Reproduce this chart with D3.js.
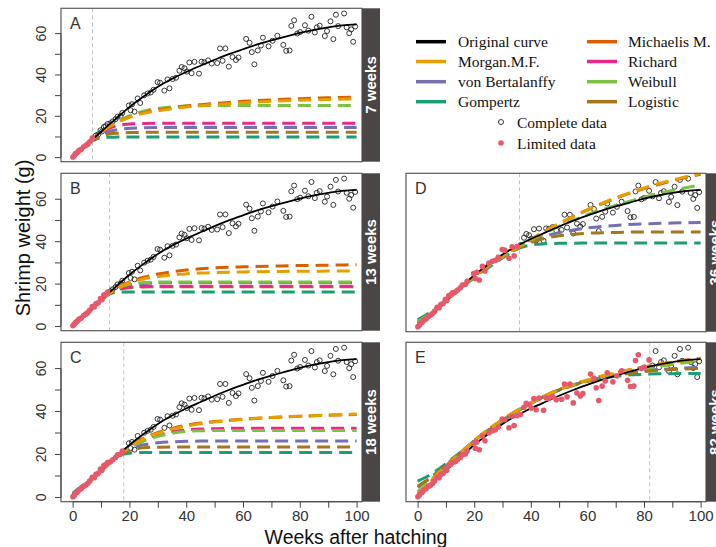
<!DOCTYPE html>
<html><head><meta charset="utf-8">
<script src="https://cdn.jsdelivr.net/npm/d3@7"></script>
<style>body{margin:0;background:#fff;} svg{display:block;}</style>
</head><body>
<svg id="c" width="716" height="547"></svg>
<script>
// ---------- data ----------
const pointWeeks = [0.1,0.6,1.0,1.6,2.2,3.0,3.9,4.6,5.3,6.0,6.9,7.6,8.2,9.0,9.8,10.3,11.0,11.6,12.3,13.3,14.1,15.1,15.8,16.9,17.5,
  19.8,20.4,20.9,21.8,22.9,23.8,25.2,26.4,27.5,28.5,29.9,30.8,32.3,33.4,34.1,35.2,36.4,37.6,38.4,39.4,40.2,41.1,41.9,42.9,44.5,45.4,46.4,47.7,
  49.0,50.9,51.9,52.8,53.8,55.0,56.3,57.5,58.4,61.1,62.3,63.1,64.0,65.2,66.3,67.0,69.0,70.4,72.1,74.2,75.2,76.4,77.0,78.0,79.1,80.1,81.8,
  83.0,84.1,85.3,86.0,87.0,88.8,89.6,90.8,91.8,92.7,93.5,95.6,96.5,97.4,98.1,98.8,99.5];
const pointWeights = [0.1,0.8,1.7,2.2,3.2,3.8,5.0,5.6,6.3,7.4,9.2,9.0,10.5,11.0,13.0,12.4,14.6,15.0,16.0,16.4,17.3,18.4,19.6,20.0,21.4,
  25.0,22.7,25.6,22.0,28.4,26.2,29.9,30.8,31.3,32.6,36.3,36.0,32.2,37.6,33.3,37.8,38.4,41.8,43.6,43.0,41.4,45.8,40.6,46.1,40.4,46.2,45.9,46.8,
  45.3,45.5,52.6,46.6,52.6,43.8,48.4,47.0,48.2,57.2,55.3,50.8,44.9,51.6,54.0,57.8,53.6,56.3,58.7,54.3,51.4,51.6,63.5,66.2,59.8,60.5,63.8,
  61.2,67.9,60.3,62.8,63.6,58.6,61.0,65.7,57.1,68.9,63.4,69.5,62.8,60.0,61.8,55.8,63.2];

const origWeeks   = [0,5,10,15,20,25,30,35,40,45,50,55,60,65,70,75,80,85,90,95,100];
const origWeights = [0,6,12.3,18.3,24.2,29.3,34,37.9,41.2,44.2,47.1,49.8,52.2,54.5,56.5,58.3,60.1,61.6,62.8,63.7,64.2];

const fitWeeks = [0,4,7,10,13,16,18,21,25,30,36,40,45,50,60,70,80,82,90,100];

const panelLetters = ["A","B","C","D","E"];
const cutoffWeeks  = [7,13,18,36,82];
const stripLabels  = ["7 weeks","13 weeks","18 weeks","36 weeks","82 weeks"];

// fitted curves, one row per panel (A..E) at fitWeeks
const gompertzFit = [
  [0.3,4.6,8.2,9.3,9.6,9.7,9.8,9.8,9.8,9.8,9.8,9.8,9.8,9.8,9.8,9.8,9.8,9.8,9.8,9.8],
  [1.0,5.2,8.6,12.2,15.2,15.9,16.0,16.1,16.1,16.1,16.1,16.1,16.1,16.1,16.1,16.1,16.1,16.1,16.1,16.1],
  [1.8,5.8,9.0,12.4,15.8,18.6,20.0,20.5,20.7,20.7,20.7,20.7,20.7,20.7,20.7,20.7,20.7,20.7,20.7,20.7],
  [3.4,6.5,9.3,12.5,15.8,19.0,21.0,24.0,27.8,32.3,37.0,38.4,39.0,39.2,39.3,39.3,39.3,39.3,39.3,39.3],
  [7.4,10.0,12.6,15.5,18.6,21.7,23.8,26.9,30.8,35.4,40.5,43.5,47.0,49.9,54.0,56.2,57.1,57.2,57.4,57.5]];
const logisticFit = [
  [0.5,4.6,8.3,10.2,11.2,11.6,11.8,11.9,12,12,12,12,12,12,12,12,12,12,12,12],
  [0.8,5.0,8.5,12.0,15.3,17.0,17.7,18.2,18.4,18.5,18.5,18.5,18.5,18.5,18.5,18.5,18.5,18.5,18.5,18.5],
  [1.2,5.4,8.8,12.3,15.8,18.8,20.5,22.0,22.9,23.2,23.3,23.3,23.3,23.3,23.3,23.3,23.3,23.3,23.3,23.3],
  [2.2,5.8,9.0,12.4,15.9,19.2,21.3,24.4,28.2,32.6,37.2,39.5,41.5,42.7,43.9,44.3,44.5,44.5,44.5,44.5],
  [5.0,8.5,11.6,14.9,18.3,21.6,23.7,27.0,31.0,35.6,40.6,43.6,46.9,49.7,53.8,56.5,58.3,58.6,59.3,59.8]];
const bertalanffyFit = [
  [0.2,4.5,8.4,10.9,12.4,13.3,13.7,14.0,14.2,14.3,14.3,14.3,14.3,14.3,14.3,14.3,14.3,14.3,14.3,14.3],
  [0.5,4.8,8.4,12.0,15.5,17.6,18.6,19.5,20.1,20.4,20.5,20.5,20.5,20.5,20.5,20.5,20.5,20.5,20.5,20.5],
  [0.8,5.0,8.6,12.2,15.8,19.0,21.0,22.8,24.3,25.2,25.7,25.9,26.0,26.0,26.0,26.0,26.0,26.0,26.0,26.0],
  [1.5,5.4,8.8,12.3,15.9,19.3,21.5,24.6,28.5,32.9,37.3,40.0,42.5,44.2,46.4,47.6,48.3,48.4,48.7,49.0],
  [4.5,8.2,11.4,14.8,18.3,21.7,23.9,27.2,31.2,35.8,40.7,43.6,46.9,49.7,53.9,56.8,58.7,59.0,59.7,60.3]];
const richardFit = [
  [0.2,4.5,8.4,11.5,14.0,15.3,15.8,16.1,16.3,16.4,16.4,16.4,16.4,16.4,16.4,16.4,16.4,16.4,16.4,16.4],
  [0.3,4.7,8.4,12.0,15.5,17.3,18.0,18.5,18.7,18.8,18.8,18.8,18.8,18.8,18.8,18.8,18.8,18.8,18.8,18.8],
  [0.3,4.8,8.5,12.2,15.9,19.3,21.4,24.0,26.6,28.9,30.6,31.2,31.6,31.8,32,32,32,32,32,32],
  null,
  null];
const weibullFit = [
  [0.1,4.5,8.5,12.0,15.0,17.5,18.8,20.5,22.2,23.6,24.4,24.7,24.9,25,25,25,25,25,25,25],
  [0.2,4.6,8.4,12.0,15.6,17.9,19.0,20.0,20.5,20.7,20.8,20.8,20.8,20.8,20.8,20.8,20.8,20.8,20.8,20.8],
  [0.5,4.8,8.5,12.1,15.8,19.1,21.2,23.6,26.0,28.2,29.9,30.5,30.8,30.9,31.0,31.0,31.0,31.0,31.0,31.0],
  [2.5,5.8,9.0,12.4,15.9,19.3,21.4,24.5,28.4,32.9,37.6,40.5,44.0,47.2,52.6,57.0,60.8,61.5,64.0,66.5],
  [2.5,7.0,10.8,14.5,18.1,21.6,23.9,27.3,31.4,36.0,40.9,43.8,47.1,49.9,54.2,57.4,59.8,60.2,61.7,63.3]];
const michaelisFit = [
  [0.0,4.5,8.5,12.0,14.8,17.0,18.3,20.0,21.5,22.8,24.0,24.7,25.4,26.0,27.0,27.7,28.3,28.4,28.7,29.1],
  [0.0,4.6,8.4,12.0,15.6,18.2,19.6,21.3,23.0,24.5,25.8,26.4,27.0,27.4,27.9,28.2,28.5,28.5,28.7,28.9],
  [0.0,4.7,8.5,12.1,15.8,19.2,21.4,24.4,27.4,30.0,32.3,33.4,34.4,35.1,36.2,37.0,37.6,37.7,38.0,38.4],
  [0.2,4.9,8.6,12.2,15.9,19.4,21.6,24.8,28.8,33.4,38.0,41.0,44.8,48.4,54.8,60.3,64.8,65.6,68.5,71.5],
  [0.5,6.2,10.3,14.2,18.0,21.6,23.9,27.3,31.4,36.0,40.9,43.8,47.1,50.0,54.4,57.8,60.5,61.0,62.8,64.6]];
const morganFit = [
  [0.1,4.5,8.5,12.0,14.8,17.0,18.2,19.8,21.2,22.4,23.6,24.3,24.9,25.4,26.3,27.0,27.5,27.6,27.9,28.2],
  [0.1,4.6,8.4,12.0,15.6,18.0,19.3,20.8,22.2,23.3,24.2,24.6,25.0,25.2,25.5,25.7,25.8,25.8,25.9,26.0],
  [0.2,4.7,8.5,12.1,15.8,19.2,21.3,24.1,27.0,29.6,31.9,33.0,34.1,34.9,36.1,37.0,37.6,37.7,38.1,38.6],
  [0.5,5.0,8.6,12.2,15.9,19.4,21.6,24.8,28.8,33.4,38.0,41.0,44.9,48.5,55.0,60.5,65.1,66.0,68.8,72.0],
  [1.5,6.5,10.5,14.3,18.0,21.6,23.9,27.3,31.4,36.0,40.9,43.8,47.1,50.0,54.4,57.8,60.5,61.0,62.7,64.5]];

const yTicks = [0,10,20,30,40,50,60];
const yTickLabels = [0,20,40,60];
const xTicks = [0,10,20,30,40,50,60,70,80,90,100];
const xTickLabels = [0,20,40,60,80,100];

// legend
const legendCol1 = ["Original curve","Morgan.M.F.","von Bertalanffy","Gompertz"];
const legendCol2 = ["Michaelis M.","Richard","Weibull","Logistic"];

// ---------- styles ----------
const C = {
  orig:"#000000", morgan:"#E69F00", bert:"#7570B3", gomp:"#1B9E77",
  mm:"#D95F02", rich:"#E7298A", weib:"#7CC142", logi:"#A6761D",
  limited:"#E8586B", strip:"#4b4646", frame:"#5a5a5a"
};
const legendCol1Colors = [C.orig, C.morgan, C.bert, C.gomp];
const legendCol2Colors = [C.mm, C.rich, C.weib, C.logi];

// draw order of fits
const fitList = [
  {data:gompertzFit, color:C.gomp},
  {data:bertalanffyFit, color:C.bert},
  {data:logisticFit, color:C.logi},
  {data:richardFit, color:C.rich},
  {data:weibullFit, color:C.weib},
  {data:michaelisFit, color:C.mm},
  {data:morganFit, color:C.morgan}
];

const boxes = [
  {x0:61,  x1:362, y0:8.3,   y1:161.7, yAxis:true,  xAxis:false},
  {x0:61,  x1:362, y0:173.3, y1:330.7, yAxis:true,  xAxis:false},
  {x0:61,  x1:362, y0:342.3, y1:501.7, yAxis:true,  xAxis:true},
  {x0:406, x1:706, y0:173.3, y1:331.7, yAxis:false, xAxis:false},
  {x0:406, x1:706, y0:342.3, y1:501.7, yAxis:false, xAxis:true}
];

const svg = d3.select("#c");
const defs = svg.append("defs");
const SANS = "'Liberation Sans', Arial, sans-serif";
const SERIF = "'Liberation Serif', 'Times New Roman', serif";

const points = pointWeeks.map((w,i)=>({w, v:pointWeights[i]}));
const orig = origWeeks.map((w,i)=>({w, v:origWeights[i]}));

boxes.forEach((b, pi) => {
  const x = d3.scaleLinear().domain([-4.1, 101.9]).range([b.x0, b.x1]);
  const y = d3.scaleLinear().domain([-2.2, 72]).range([b.y1, b.y0]);
  const cut = cutoffWeeks[pi];

  const clipId = "clip"+pi;
  defs.append("clipPath").attr("id", clipId)
    .append("rect").attr("x", b.x0).attr("y", b.y0).attr("width", b.x1-b.x0).attr("height", b.y1-b.y0);

  const g = svg.append("g");
  const inner = g.append("g").attr("clip-path", `url(#${clipId})`);

  // cutoff line
  inner.append("line")
    .attr("x1", x(cut)).attr("x2", x(cut)).attr("y1", b.y0).attr("y2", b.y1)
    .attr("stroke", "#c4c4c4").attr("stroke-width", 1).attr("stroke-dasharray", "4,3");

  // complete data (after cutoff)
  inner.selectAll("circle.open").data(points.filter(p => p.w > cut)).join("circle")
    .attr("class","open")
    .attr("cx", d => x(d.w)).attr("cy", d => y(d.v)).attr("r", 2.5)
    .attr("fill", "none").attr("stroke", "#222").attr("stroke-width", 0.9);

  // fitted curves
  const fitLine = d3.line().x(d => x(d[0])).y(d => y(d[1])).curve(d3.curveMonotoneX);
  fitList.forEach(f => {
    const row = f.data[pi];
    if (!row) return;
    const pts = fitWeeks.map((w,i)=>[w,row[i]]);
    inner.append("path").attr("d", fitLine(pts))
      .attr("fill","none").attr("stroke", f.color).attr("stroke-width", 3)
      .attr("stroke-dasharray", "13,7");
  });

  // original curve
  const origLine = d3.line().x(d => x(d.w)).y(d => y(d.v)).curve(d3.curveMonotoneX);
  inner.append("path").attr("d", origLine(orig))
    .attr("fill","none").attr("stroke", C.orig).attr("stroke-width", 1.8);

  // limited data (up to cutoff)
  inner.selectAll("circle.lim").data(points.filter(p => p.w <= cut)).join("circle")
    .attr("class","lim")
    .attr("cx", d => x(d.w)).attr("cy", d => y(d.v)).attr("r", 2.8)
    .attr("fill", C.limited);

  // frame
  g.append("rect").attr("x", b.x0).attr("y", b.y0).attr("width", b.x1-b.x0).attr("height", b.y1-b.y0)
    .attr("fill","none").attr("stroke", C.frame).attr("stroke-width", 1.2);

  // strip
  g.append("rect").attr("x", b.x1).attr("y", b.y0).attr("width", 18).attr("height", b.y1-b.y0)
    .attr("fill", C.strip);
  const sx = b.x1 + 9, sy = (b.y0+b.y1)/2;
  g.append("text").attr("transform", `translate(${sx + 5},${sy}) rotate(-90)`)
    .attr("text-anchor","middle").attr("fill","#fff")
    .style("font-family", SANS).style("font-weight","bold").style("font-size","15px")
    .text(stripLabels[pi]);

  // panel letter
  g.append("text").attr("x", b.x0 + 9).attr("y", b.y0 + 21)
    .attr("fill","#333").style("font-family", SANS).style("font-size","16px")
    .text(panelLetters[pi]);

  // y axis
  if (b.yAxis) {
    const yAxis = d3.axisLeft(y).tickValues(yTicks).tickSize(6)
      .tickFormat(d => yTickLabels.includes(d) ? d : "");
    const ga = g.append("g").attr("transform", `translate(${b.x0},0)`).call(yAxis);
    ga.select(".domain").remove();
    ga.selectAll(".tick line").attr("stroke", "#444");
    ga.selectAll(".tick text")
      .attr("x", 0).attr("dy", 0)
      .attr("transform", "translate(-20,0) rotate(-90)")
      .attr("text-anchor","middle").attr("dominant-baseline","central")
      .attr("fill","#333").style("font-family", SANS).style("font-size","14px");
    ga.append("line").attr("x1",0).attr("x2",0).attr("y1", y(0)).attr("y2", y(60)).attr("stroke","#444");
  }
  // x axis
  if (b.xAxis) {
    const xAxis = d3.axisBottom(x).tickValues(xTicks).tickSize(6)
      .tickFormat(d => xTickLabels.includes(d) ? d : "");
    const ga = g.append("g").attr("transform", `translate(0,${b.y1})`).call(xAxis);
    ga.select(".domain").remove();
    ga.selectAll(".tick line").attr("stroke", "#444");
    ga.selectAll(".tick text").attr("y", 9)
      .attr("fill","#333").style("font-family", SANS).style("font-size","15px");
    ga.append("line").attr("y1",0).attr("y2",0).attr("x1", x(0)).attr("x2", x(100)).attr("stroke","#444");
  }
});

// axis titles
svg.append("text").attr("x", 356).attr("y", 543.5).attr("text-anchor","middle")
  .style("font-family", SANS).style("font-size","19.5px").attr("fill","#111")
  .text("Weeks after hatching");
svg.append("text").attr("transform","translate(30,238) rotate(-90)").attr("text-anchor","middle")
  .style("font-family", SANS).style("font-size","20px").attr("fill","#111")
  .text("Shrimp weight (g)");

// legend
const lg = svg.append("g");
const rowY = [41.7, 61.5, 81.7, 101.7];
legendCol1.forEach((t,i) => {
  lg.append("line").attr("x1",416).attr("x2",446).attr("y1",rowY[i]).attr("y2",rowY[i])
    .attr("stroke", legendCol1Colors[i]).attr("stroke-width", 3.5);
  lg.append("text").attr("x",458).attr("y",rowY[i]).attr("dominant-baseline","central")
    .style("font-family", SERIF).style("font-size","15.5px").attr("fill","#111").text(t);
});
legendCol2.forEach((t,i) => {
  lg.append("line").attr("x1",587).attr("x2",617).attr("y1",rowY[i]).attr("y2",rowY[i])
    .attr("stroke", legendCol2Colors[i]).attr("stroke-width", 3.5);
  lg.append("text").attr("x",628).attr("y",rowY[i]).attr("dominant-baseline","central")
    .style("font-family", SERIF).style("font-size","15.5px").attr("fill","#111").text(t);
});
lg.append("circle").attr("cx",501).attr("cy",122).attr("r",2.5).attr("fill","none").attr("stroke","#222").attr("stroke-width",0.9);
lg.append("text").attr("x",517).attr("y",122).attr("dominant-baseline","central")
  .style("font-family", SERIF).style("font-size","15.5px").attr("fill","#111").text("Complete data");
lg.append("circle").attr("cx",501).attr("cy",143).attr("r",2.8).attr("fill",C.limited);
lg.append("text").attr("x",517).attr("y",143).attr("dominant-baseline","central")
  .style("font-family", SERIF).style("font-size","15.5px").attr("fill","#111").text("Limited data");
</script>
</body></html>
